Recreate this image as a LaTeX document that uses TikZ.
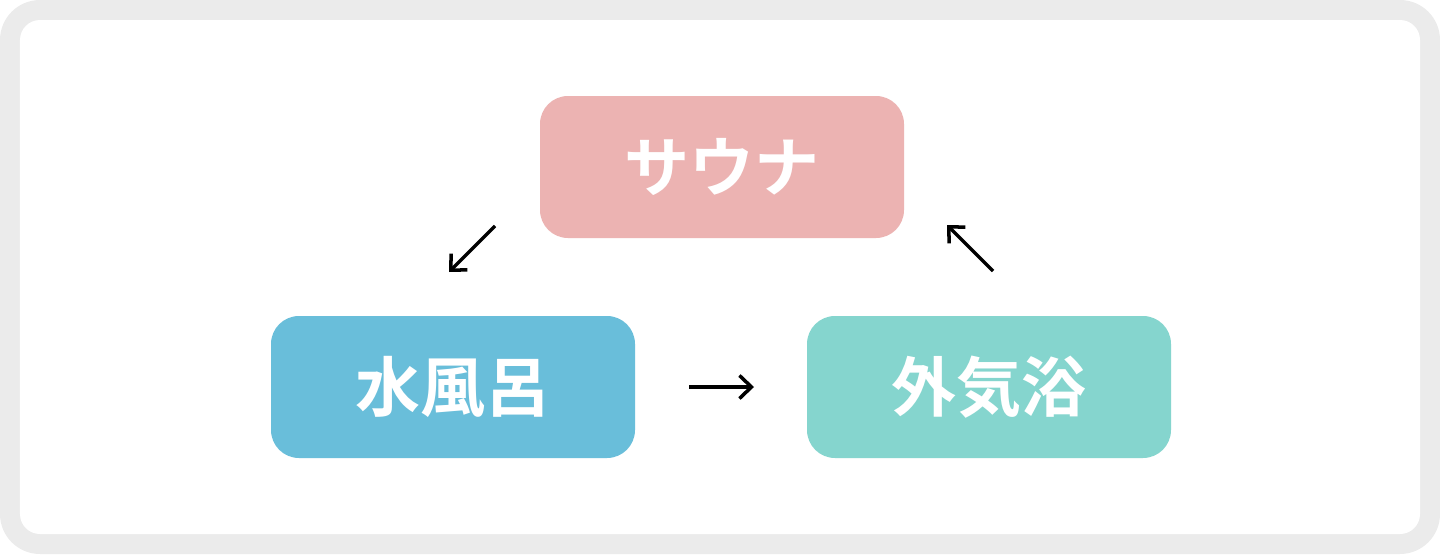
\documentclass[tikz,border=0pt]{standalone}
\usepackage{xcolor}
\usepackage{tikz}
\usepackage{fontspec}
\newfontfamily\jpfont{Noto Sans CJK JP}[BoldFont={Noto Sans CJK JP Bold}]
\usetikzlibrary{arrows.meta, positioning, calc}
\definecolor{framegray}{HTML}{EBEBEB}
\definecolor{saunapink}{HTML}{ECB3B2}
\definecolor{waterblue}{HTML}{69BEDA}
\definecolor{airgreen}{HTML}{85D5CE}

\tikzset{
  stagebox/.style={rounded corners=0.56cm, minimum width=7.28cm, minimum height=2.84cm,
    text=white, font=\jpfont\bfseries\fontsize{37}{37}\selectfont, inner sep=0pt},
  cyclearrow/.style={black, line width=2pt, -{Straight Barb[length=0.24cm, width=0.46cm, line width=2pt]}}
}

\begin{document}
\begin{tikzpicture}
  % Outer frame
  \fill[framegray, rounded corners=0.8cm] (0,0) rectangle (28.8,-11.08);
  \fill[white, rounded corners=0.4cm] (0.4,-0.4) rectangle (28.4,-10.68);
  \useasboundingbox (0,0) rectangle (28.8,-11.08);

  % Stages
  \node[stagebox, fill=saunapink] (sauna) at (14.44,-3.34) {サウナ};
  \node[stagebox, fill=waterblue] (water) at (9.06,-7.74) {水風呂};
  \node[stagebox, fill=airgreen] (air) at (19.78,-7.74) {外気浴};

  % Arrow ends
  \coordinate (saunaout) at (9.9,-4.52);
  \coordinate (waterin) at (8.98,-5.44);
  \coordinate (waterout) at (13.78,-7.74);
  \coordinate (airin) at (15.08,-7.74);
  \coordinate (airout) at (19.86,-5.42);
  \coordinate (saunain) at (18.94,-4.5);

  % Cycle arrows
  \draw[cyclearrow] (saunaout) -- (waterin);
  \draw[cyclearrow] (waterout) -- (airin);
  \draw[cyclearrow] (airout) -- (saunain);
\end{tikzpicture}
\end{document}
